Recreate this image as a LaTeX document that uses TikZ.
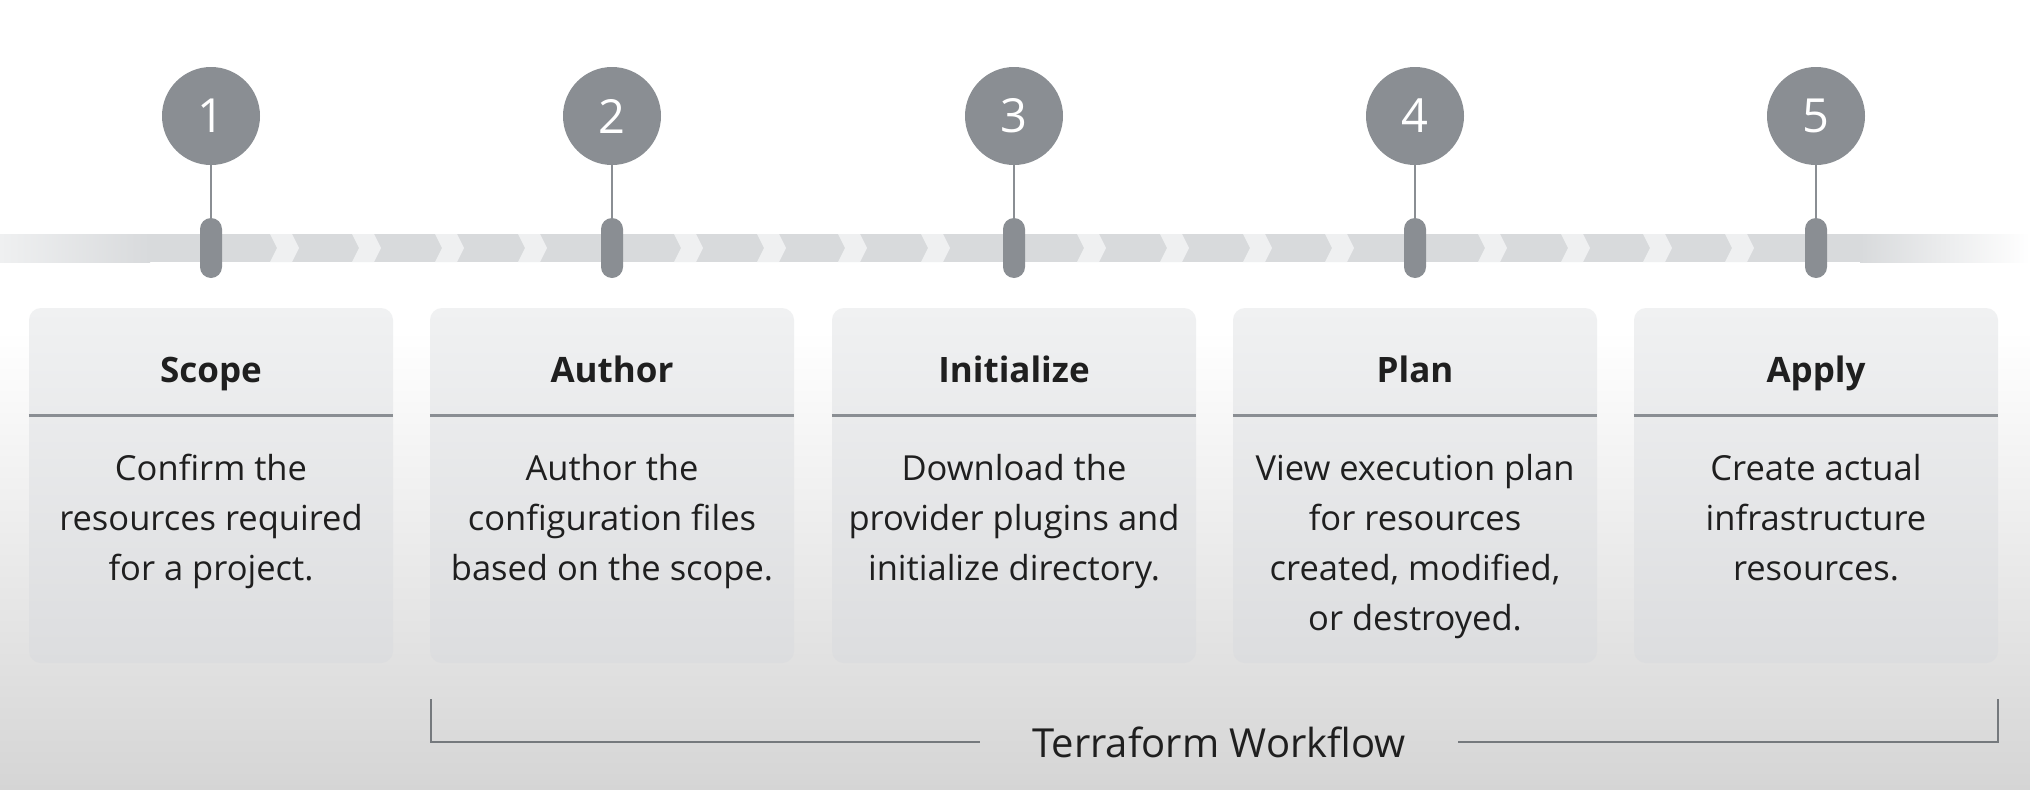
\documentclass[tikz,border=0pt]{standalone}
\usepackage{fontspec}
\setmainfont{Open Sans}
\definecolor{stepgrey}{HTML}{8A8E93}
\definecolor{bandgrey}{HTML}{D8DADC}
\definecolor{gapgrey}{HTML}{EFF0F1}
\definecolor{cardtop}{HTML}{F0F1F2}
\definecolor{cardbot}{HTML}{DCDDDF}
\definecolor{inkgrey}{HTML}{1F1F1F}
\definecolor{floorgrey}{HTML}{D5D5D5}
\begin{document}
\begin{tikzpicture}[x=1pt,y=-1pt,
    stepnum/.style={circle,fill=stepgrey,minimum size=98pt,inner sep=0pt,text=white,font=\fontsize{47}{47}\selectfont},
    steppin/.style={rectangle,rounded corners=11pt,fill=stepgrey,minimum width=22pt,minimum height=60pt,inner sep=0pt},
    stem/.style={stepgrey,line width=2pt},
    chev/.style={fill=gapgrey},
    card/.style={rectangle,rounded corners=12pt,minimum width=364pt,minimum height=355pt,inner sep=0pt,top color=cardtop,bottom color=cardbot},
    sepline/.style={stepgrey,line width=3pt},
    cardtitle/.style={anchor=base,inner sep=0pt,text=inkgrey,font=\bfseries\fontsize{35}{42}\selectfont},
    cardtext/.style={anchor=base,inner sep=0pt,align=center,text=inkgrey,font=\fontsize{34.5}{50}\selectfont},
    bracket/.style={draw=stepgrey!85!black,line width=2pt},
    workflow/.style={inner xsep=52pt,inner ysep=0pt,text=inkgrey,font=\fontsize{40}{40}\selectfont}]
    \useasboundingbox (0,0) rectangle (2030,790);
    % background
    \fill[white] (0,0) rectangle (2030,790);
    \shade[top color=white,bottom color=floorgrey] (0,330) rectangle (2030,790);

    % timeline band
    \fill[bandgrey] (150,234) rectangle (1860,262);
    \shade[left color=gapgrey,right color=bandgrey] (0,234) rectangle (150,262);
    \shade[left color=bandgrey,right color=white] (1860,234) rectangle (2030,262);
    \fill[chev] (270,234) -- ++(22,0) -- ++(7,14) -- ++(-7,14) -- ++(-22,0) -- ++(7,-14) -- cycle;
    \fill[chev] (352,234) -- ++(22,0) -- ++(7,14) -- ++(-7,14) -- ++(-22,0) -- ++(7,-14) -- cycle;
    \fill[chev] (435,234) -- ++(22,0) -- ++(7,14) -- ++(-7,14) -- ++(-22,0) -- ++(7,-14) -- cycle;
    \fill[chev] (518,234) -- ++(22,0) -- ++(7,14) -- ++(-7,14) -- ++(-22,0) -- ++(7,-14) -- cycle;
    \fill[chev] (674,234) -- ++(22,0) -- ++(7,14) -- ++(-7,14) -- ++(-22,0) -- ++(7,-14) -- cycle;
    \fill[chev] (757,234) -- ++(22,0) -- ++(7,14) -- ++(-7,14) -- ++(-22,0) -- ++(7,-14) -- cycle;
    \fill[chev] (838,234) -- ++(22,0) -- ++(7,14) -- ++(-7,14) -- ++(-22,0) -- ++(7,-14) -- cycle;
    \fill[chev] (921,234) -- ++(22,0) -- ++(7,14) -- ++(-7,14) -- ++(-22,0) -- ++(7,-14) -- cycle;
    \fill[chev] (1077,234) -- ++(22,0) -- ++(7,14) -- ++(-7,14) -- ++(-22,0) -- ++(7,-14) -- cycle;
    \fill[chev] (1160,234) -- ++(22,0) -- ++(7,14) -- ++(-7,14) -- ++(-22,0) -- ++(7,-14) -- cycle;
    \fill[chev] (1243,234) -- ++(22,0) -- ++(7,14) -- ++(-7,14) -- ++(-22,0) -- ++(7,-14) -- cycle;
    \fill[chev] (1325,234) -- ++(22,0) -- ++(7,14) -- ++(-7,14) -- ++(-22,0) -- ++(7,-14) -- cycle;
    \fill[chev] (1478,234) -- ++(22,0) -- ++(7,14) -- ++(-7,14) -- ++(-22,0) -- ++(7,-14) -- cycle;
    \fill[chev] (1561,234) -- ++(22,0) -- ++(7,14) -- ++(-7,14) -- ++(-22,0) -- ++(7,-14) -- cycle;
    \fill[chev] (1643,234) -- ++(22,0) -- ++(7,14) -- ++(-7,14) -- ++(-22,0) -- ++(7,-14) -- cycle;
    \fill[chev] (1725,234) -- ++(22,0) -- ++(7,14) -- ++(-7,14) -- ++(-22,0) -- ++(7,-14) -- cycle;

    % step markers
    \node[stepnum] (n1) at (211,116) {1};
    \node[stepnum] (n2) at (612,116) {2};
    \node[stepnum] (n3) at (1014,116) {3};
    \node[stepnum] (n4) at (1415,116) {4};
    \node[stepnum] (n5) at (1816,116) {5};

    \node[steppin] (p1) at (211,248) {};
    \node[steppin] (p2) at (612,248) {};
    \node[steppin] (p3) at (1014,248) {};
    \node[steppin] (p4) at (1415,248) {};
    \node[steppin] (p5) at (1816,248) {};

    \draw[stem] (n1) -- (p1);
    \draw[stem] (n2) -- (p2);
    \draw[stem] (n3) -- (p3);
    \draw[stem] (n4) -- (p4);
    \draw[stem] (n5) -- (p5);

    % cards
    \node[card] (c1) at (211,485.5) {};
    \node[card] (c2) at (612,485.5) {};
    \node[card] (c3) at (1014,485.5) {};
    \node[card] (c4) at (1415,485.5) {};
    \node[card] (c5) at (1816,485.5) {};

    \draw[sepline] (c1.west |- 0,415) -- (c1.east |- 0,415);
    \draw[sepline] (c2.west |- 0,415) -- (c2.east |- 0,415);
    \draw[sepline] (c3.west |- 0,415) -- (c3.east |- 0,415);
    \draw[sepline] (c4.west |- 0,415) -- (c4.east |- 0,415);
    \draw[sepline] (c5.west |- 0,415) -- (c5.east |- 0,415);

    \node[cardtitle] (t1) at (211,382) {Scope};
    \node[cardtitle] (t2) at (612,382) {Author};
    \node[cardtitle] (t3) at (1014,382) {Initialize};
    \node[cardtitle] (t4) at (1415,382) {Plan};
    \node[cardtitle] (t5) at (1816,382) {Apply};

    % base of a multi-line node is its last line
    \node[cardtext] (d1) at (211,580) {Confirm the\\resources required\\for a project.};
    \node[cardtext] (d2) at (612,580) {Author the\\configuration files\\based on the scope.};
    \node[cardtext] (d3) at (1014,580) {Download the\\provider plugins and\\initialize directory.};
    \node[cardtext] (d4) at (1415,630) {View execution plan\\for resources\\created, modified,\\or destroyed.};
    \node[cardtext] (d5) at (1816,580) {Create actual\\infrastructure\\resources.};

    % workflow bracket
    \node[workflow] (wf) at (1219,742) {Terraform Workflow};
    \coordinate (bl) at (431,699);
    \coordinate (br) at (1998,699);
    \draw[bracket] (bl) |- (wf.west);
    \draw[bracket] (br) |- (wf.east);
\end{tikzpicture}
\end{document}
